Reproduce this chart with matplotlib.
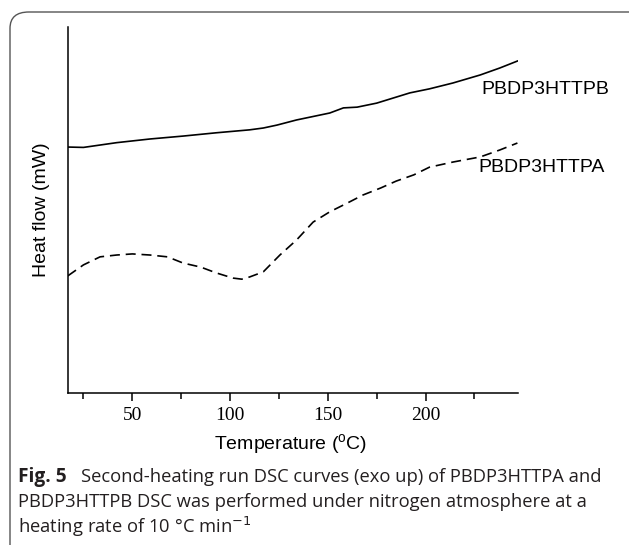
import matplotlib
matplotlib.use("Agg")
import matplotlib.pyplot as plt
from matplotlib.patches import FancyBboxPatch

# Data
temp_b = [17, 25, 42, 59, 76, 93, 110, 117, 124, 134, 151, 158, 165, 175, 192, 202, 214, 228, 238, 247]
flow_b = [6.72, 6.71, 6.84, 6.94, 7.02, 7.11, 7.19, 7.24, 7.32, 7.46, 7.65, 7.79, 7.81, 7.92, 8.20, 8.31, 8.47, 8.69, 8.88, 9.07]

temp_a = [17, 25, 33.5, 42, 50, 59, 68, 76, 85, 93, 101.5, 106, 110, 117, 125.5, 134, 142.5, 151, 160, 168, 177, 185, 194, 202, 214, 228, 238, 247]
flow_a = [3.20, 3.50, 3.72, 3.77, 3.80, 3.77, 3.72, 3.55, 3.44, 3.28, 3.14, 3.11, 3.17, 3.31, 3.77, 4.18, 4.67, 4.95, 5.19, 5.41, 5.60, 5.79, 5.96, 6.17, 6.31, 6.45, 6.64, 6.83]

major_ticks = [50, 100, 150, 200]
minor_ticks = [25, 75, 125, 175, 225]
label_b = "PBDP3HTTPB"
label_a = "PBDP3HTTPA"

fig = plt.figure(figsize=(6.29, 5.45), dpi=100)

# rounded border of the figure panel
box = FancyBboxPatch((10 / 629, -0.2), 1.2, 1.2 - 12 / 545,
                     boxstyle="round,pad=0,rounding_size=0.03",
                     transform=fig.transFigure, facecolor="none",
                     edgecolor="#555555", linewidth=1.0)
fig.patches.append(box)

ax = fig.add_axes([68 / 629, (545 - 393) / 545, (518 - 68) / 629, (393 - 27) / 545])
ax.plot(temp_b, flow_b, color="black", lw=1.2)
ax.plot(temp_a, flow_a, color="black", lw=1.2, dashes=(6, 3.5))

ax.set_xlim(17.1, 247.3)
ax.set_ylim(0, 10)
for s in ["top", "right"]:
    ax.spines[s].set_visible(False)
for s in ["left", "bottom"]:
    ax.spines[s].set_linewidth(1.1)
ax.set_yticks([])
ax.set_xticks(major_ticks)
ax.set_xticks(minor_ticks, minor=True)
ax.tick_params(axis="x", which="major", direction="out", length=6, width=1.1,
               labelsize=14, pad=4)
ax.tick_params(axis="x", which="minor", direction="out", length=4, width=1.1)
for lab in ax.get_xticklabels():
    lab.set_fontfamily("Liberation Serif")

ax.text(228.4, 8.28, label_b, fontsize=14, family="Liberation Sans", va="center", ha="left", clip_on=False)
ax.text(226.8, 6.15, label_a, fontsize=14, family="Liberation Sans", va="center", ha="left", clip_on=False)

fig.text(291 / 629, 1 - 444 / 545, r"Temperature ($\mathregular{^o}$C)", fontsize=14,
         family="Liberation Sans", ha="center", va="center")
fig.text(42 / 629, 1 - 210 / 545, "Heat flow (mW)", fontsize=14, family="Liberation Sans",
         rotation=90, ha="center", va="center")

cap_color = "#231f20"
cap_size = 13.2
fig_lbl = fig.text(18 / 629, 1 - 477 / 545, "Fig. 5", fontsize=13.8, family="Open Sans", weight="bold",
                   color=cap_color, va="center", ha="left")
renderer = fig.canvas.get_renderer()
bb = fig_lbl.get_window_extent(renderer)
fig.text((bb.x1 + 14) / 629, 1 - 477 / 545, "Second-heating run DSC curves (exo up) of PBDP3HTTPA and",
         fontsize=cap_size, family="Open Sans", color=cap_color, va="center", ha="left")
fig.text(18 / 629, 1 - 502 / 545, "PBDP3HTTPB DSC was performed under nitrogen atmosphere at a",
         fontsize=cap_size, family="Open Sans", color=cap_color, va="center", ha="left")
fig.text(18 / 629, 1 - 527 / 545, "heating rate of 10 °C min$^{-1}$",
         fontsize=cap_size, family="Open Sans", color=cap_color, va="center", ha="left")

fig.savefig("out.png", dpi=100)
